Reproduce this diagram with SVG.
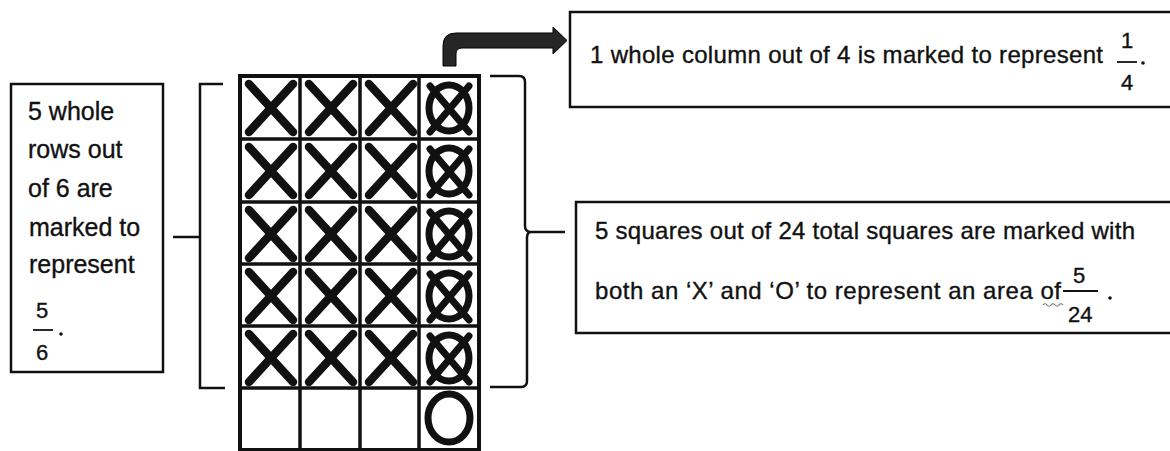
<svg xmlns="http://www.w3.org/2000/svg" xmlns:xlink="http://www.w3.org/1999/xlink" width="1170" height="451" viewBox="0 0 1170 451">
<style>
  .txt { font-family: "Liberation Sans", Arial, sans-serif; font-size: 24px; fill: #111; stroke: #111; stroke-width: 0.35; }
  .big { font-size: 25px; }
  .frac { font-family: "Liberation Sans", Arial, sans-serif; font-size: 22px; fill: #111; stroke: #111; stroke-width: 0.35; }
  .box { fill: #fff; stroke: #111; stroke-width: 2.5; }
  .grid { stroke: #111; stroke-width: 3.5; fill: none; }
  .mark { stroke: #111; stroke-width: 8.5; stroke-linecap: round; fill: none; }
  .omark { stroke: #111; stroke-width: 7; fill: none; }
  .conn { stroke: #111; stroke-width: 2.5; fill: none; }
  .fline { stroke: #111; stroke-width: 1.8; }
</style>
<defs>
  <path id="x" class="mark" d="M9,8 L53,56 M53,8 L9,56"/>
  <g id="xo">
    <ellipse cx="30" cy="32" rx="20" ry="23" class="omark"/>
    <path class="mark" d="M11,10 L50,56 M50,10 L11,56" style="stroke-width:7"/>
  </g>
</defs>
<rect width="1170" height="451" fill="#fff"/>

<g id="connectors">
  <path class="conn" d="M223,84 H200 V388 H225"/>
  <path class="conn" d="M173,237 H200"/>
  <path class="conn" d="M490,76 H519 Q525,76 525,82 V226 Q525,232 531,232 H565 M531,232 Q527,232 527,238 V381 Q527,387 521,387 H490"/>
  <path fill="#262626" stroke="#000" stroke-width="1" d="M443,66 V46 Q443,33 456,33 H553 V27 L567,40.5 L553,54 V48 H462 Q456,48 456,54 V66 Z"/>
</g>

<g id="left-box">
  <rect class="box" x="11" y="84" width="152" height="288"/>
  <text class="txt big" x="28" y="120">5 whole</text>
  <text class="txt big" x="28" y="158">rows out</text>
  <text class="txt big" x="28" y="197">of 6 are</text>
  <text class="txt big" x="29" y="236">marked to</text>
  <text class="txt big" x="29" y="273">represent</text>
  <text class="frac" x="36" y="318">5</text>
  <line class="fline" x1="33" y1="330" x2="53" y2="330"/>
  <text class="frac" x="36" y="360">6</text>
  <circle cx="61" cy="334" r="1.8" fill="#111"/>
</g>

<g id="grid">
  <rect x="240" y="76" width="239" height="374" fill="#fff"/>
  <path class="grid" d="M300,76 V450 M360,76 V450 M419,76 V450 M240,139 H479 M240,202 H479 M240,264 H479 M240,326 H479 M240,388 H479"/>
  <rect class="grid" x="240" y="76" width="239" height="374" style="stroke-width:4"/>
  <use xlink:href="#x" x="240" y="76"/><use xlink:href="#x" x="300" y="76"/><use xlink:href="#x" x="360" y="76"/>
  <use xlink:href="#x" x="240" y="139"/><use xlink:href="#x" x="300" y="139"/><use xlink:href="#x" x="360" y="139"/>
  <use xlink:href="#x" x="240" y="202"/><use xlink:href="#x" x="300" y="202"/><use xlink:href="#x" x="360" y="202"/>
  <use xlink:href="#x" x="240" y="264"/><use xlink:href="#x" x="300" y="264"/><use xlink:href="#x" x="360" y="264"/>
  <use xlink:href="#x" x="240" y="326"/><use xlink:href="#x" x="300" y="326"/><use xlink:href="#x" x="360" y="326"/>
  <use xlink:href="#xo" x="419" y="76"/>
  <use xlink:href="#xo" x="419" y="139"/>
  <use xlink:href="#xo" x="419" y="202"/>
  <use xlink:href="#xo" x="419" y="264"/>
  <use xlink:href="#xo" x="419" y="326"/>
  <ellipse cx="449" cy="418" rx="21" ry="24" class="omark"/>
</g>

<g id="box-column">
  <rect class="box" x="570" y="12" width="620" height="95"/>
  <text class="txt" x="590" y="63" textLength="513" lengthAdjust="spacing">1 whole column out of 4 is marked to represent</text>
  <text class="frac" x="1121" y="48">1</text>
  <line class="fline" x1="1117" y1="62" x2="1137" y2="62"/>
  <text class="frac" x="1121" y="90">4</text>
  <circle cx="1143" cy="63" r="1.8" fill="#111"/>
</g>

<g id="box-squares">
  <rect class="box" x="576" y="202" width="620" height="131"/>
  <text class="txt" x="595" y="239" textLength="540" lengthAdjust="spacing">5 squares out of 24 total squares are marked with</text>
  <text class="txt" x="595" y="299" textLength="466" lengthAdjust="spacing">both an ‘X’ and ‘O’ to represent an area of</text>
  <path d="M1043,305 q2,-2.5 4,0 t4,0 t4,0 t4,0 t4,0" stroke="#777" stroke-width="1.2" fill="none"/>
  <text class="frac" x="1073" y="283">5</text>
  <line class="fline" x1="1063" y1="291" x2="1098" y2="291"/>
  <text class="frac" x="1068" y="322">24</text>
  <circle cx="1110" cy="298" r="1.8" fill="#111"/>
</g>
</svg>
